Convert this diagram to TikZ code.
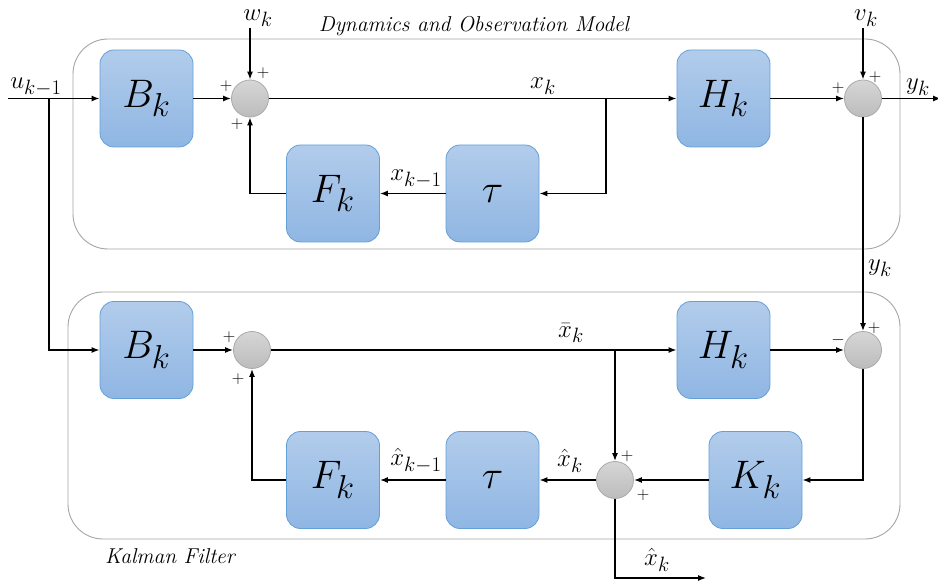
\documentclass[tikz,border=0pt]{standalone}
\usepackage{graphicx}
\usetikzlibrary{arrows.meta}
\definecolor{blkTop}{RGB}{178,204,235}
\definecolor{blkBot}{RGB}{143,182,227}
\definecolor{blkEdge}{RGB}{100,160,215}
\definecolor{sumTop}{RGB}{214,214,214}
\definecolor{sumBot}{RGB}{188,188,188}
\definecolor{sumEdge}{RGB}{170,170,170}
\definecolor{frameGray}{RGB}{165,165,165}
% large symbols inside the blocks
\newcommand{\blocksym}[1]{\scalebox{1.6}{$#1$}}
\tikzset{
  blk/.style={draw=blkEdge, line width=0.8pt, rounded corners=14pt,
    top color=blkTop, bottom color=blkBot,
    minimum width=93pt, minimum height=97pt, inner sep=0pt,
    font=\fontsize{24.88}{26}\selectfont},
  sumnode/.style={circle, draw=sumEdge, line width=0.8pt,
    top color=sumTop, bottom color=sumBot, minimum size=37pt, inner sep=0pt},
  frame/.style={draw=frameGray, line width=0.9pt, rounded corners=35pt},
  sig/.style={line width=1.3pt, -{Latex[length=8pt,width=6pt]}},
  lbl/.style={font=\fontsize{24.88}{26}\selectfont, inner sep=0pt},
  pm/.style={font=\fontsize{17.28}{18}\selectfont, inner sep=0pt},
  boxtitle/.style={font=\fontsize{21.5}{22}\selectfont\itshape, inner sep=0pt}
}
\begin{document}
\begin{tikzpicture}[x=1pt, y=-1pt]
\useasboundingbox (0,0) rectangle (938,585);

% model containers
\draw[frame] (73,39) rectangle (900,249);
\draw[frame] (68,292) rectangle (900,539);
\node[boxtitle] (capTop) at (474,26) {Dynamics and Observation Model};
\node[boxtitle] (capBot) at (170,556) {Kalman Filter};

% dynamics and observation model
\node[blk] (B1) at (146.5,98.5) {\blocksym{B_k}};
\node[sumnode] (S1) at (250,98.5) {};
\node[blk] (H1) at (723.5,98.5) {\blocksym{H_k}};
\node[sumnode] (S2) at (863,98.5) {};
\node[blk] (F1) at (333,193.5) {\blocksym{F_k}};
\node[blk] (T1) at (492.5,193.5) {\blocksym{\tau}};

% Kalman filter
\node[blk] (B2) at (146.5,350) {\blocksym{B_k}};
\node[sumnode] (S3) at (252,350) {};
\node[blk] (H2) at (723.5,350) {\blocksym{H_k}};
\node[sumnode] (S4) at (863,350) {};
\node[blk] (F2) at (333,480) {\blocksym{F_k}};
\node[blk] (T2) at (492.5,480) {\blocksym{\tau}};
\node[sumnode] (S5) at (615,480) {};
\node[blk] (K2) at (755.5,480) {\blocksym{K_k}};

% free ends and branch points
\coordinate (uIn) at (8,98.5);
\coordinate (uTap) at (49,98.5);
\coordinate (uTurn) at (49,350);
\coordinate (wIn) at (250,28);
\coordinate (vIn) at (863,28);
\coordinate (yOut) at (941,98.5);
\coordinate (xTap) at (606,98.5);
\coordinate (xTurn) at (606,193.5);
\coordinate (fTurn) at (250,193.5);
\coordinate (xbTap) at (615,350);
\coordinate (kTurn) at (863,480);
\coordinate (f2Turn) at (252,480);
\coordinate (hatTurn) at (615,578);
\coordinate (hatOut) at (706,578);

% input
\draw[sig] (uIn) -- (B1.west);
\draw[sig] (uTap) -- (uTurn) -- (B2.west);
\node[lbl] (uLbl) at (36,87) {$u_{k-1}$};

% upper loop
\draw[sig] (B1.east) -- (S1.west);
\draw[sig] (wIn) -- (S1.north);
\node[lbl] (wLbl) at (258,18) {$w_k$};
\draw[sig] (S1.east) -- (H1.west);
\node[lbl] (xLbl) at (543,86) {$x_k$};
\draw[sig] (xTap) -- (xTurn) -- (T1.east);
\draw[sig] (T1.west) -- (F1.east);
\node[lbl] (xmLbl) at (416,179) {$x_{k-1}$};
\draw[sig] (F1.west) -- (fTurn) -- (S1.south);
\draw[sig] (H1.east) -- (S2.west);
\draw[sig] (vIn) -- (S2.north);
\node[lbl] (vLbl) at (866,18) {$v_k$};
\draw[sig] (S2.east) -- (yOut);
\node[lbl] (yLbl) at (918,87) {$y_k$};
\draw[sig] (S2.south) -- (S4.north);
\node[lbl] (ykLbl) at (880,268) {$y_k$};

% filter loop
\draw[sig] (B2.east) -- (S3.west);
\draw[sig] (S3.east) -- (H2.west);
\node[lbl] (xbLbl) at (571,333) {$\bar{x}_k$};
\draw[sig] (xbTap) -- (S5.north);
\draw[sig] (H2.east) -- (S4.west);
\draw[sig] (S4.south) -- (kTurn) -- (K2.east);
\draw[sig] (K2.west) -- (S5.east);
\draw[sig] (S5.west) -- (T2.east);
\node[lbl] (xhLbl) at (570,461) {$\hat{x}_k$};
\draw[sig] (T2.west) -- (F2.east);
\node[lbl] (xhmLbl) at (416,461) {$\hat{x}_{k-1}$};
\draw[sig] (F2.west) -- (f2Turn) -- (S3.south);
\draw[sig] (S5.south) -- (hatTurn) -- (hatOut);
\node[lbl] (xhOutLbl) at (657,560) {$\hat{x}_k$};

% summing-junction signs
\node[pm] (p1) at (226,86) {$+$};
\node[pm] (p2) at (263,73) {$+$};
\node[pm] (p3) at (237,124) {$+$};
\node[pm] (p4) at (838,88) {$+$};
\node[pm] (p5) at (875,77) {$+$};
\node[pm] (p6) at (229,337) {$+$};
\node[pm] (p7) at (238,379) {$+$};
\node[pm] (p8) at (838,340) {$-$};
\node[pm] (p9) at (874,328) {$+$};
\node[pm] (p10) at (627,456) {$+$};
\node[pm] (p11) at (643,495) {$+$};
\end{tikzpicture}
\end{document}
